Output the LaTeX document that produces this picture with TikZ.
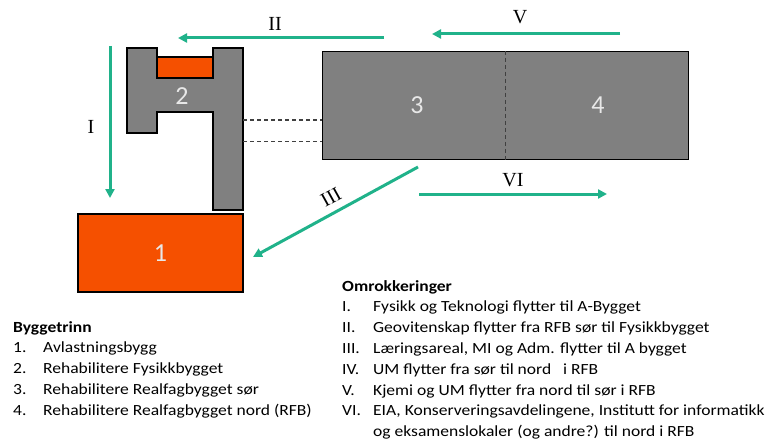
\documentclass[tikz,border=0pt]{standalone}
\usepackage{fontspec}
\setmainfont{Carlito}
\newfontfamily\listfont[FakeStretch=1.13]{Carlito}
\newfontfamily\romanfont{Liberation Serif}
\usetikzlibrary{arrows.meta, positioning}
\definecolor{movegreen}{RGB}{32,178,138}
\definecolor{buildgrey}{RGB}{128,128,128}
\definecolor{buildorange}{RGB}{245,80,0}
\definecolor{labelgrey}{RGB}{232,232,232}

\begin{document}
\begin{tikzpicture}[x=1pt, y=-1pt,
  building/.style={draw=black, line width=1.5pt, inner sep=0pt},
  nummer/.style={text=labelgrey, font=\fontsize{26}{26}\selectfont},
  move/.style={draw=movegreen, line width=3pt, -{Triangle[length=9pt,width=9pt]}},
  movelabel/.style={font=\romanfont\fontsize{20}{20}\selectfont, inner sep=0pt},
  link/.style={draw=black!75, line width=1.3pt, dash pattern=on 4pt off 3pt},
  liste/.style={anchor=base west, inner sep=0pt, font=\listfont\fontsize{15.5}{20.8}\selectfont}]

\useasboundingbox (0,0) rectangle (767,441);

% bygningene
\node[building, fill=buildorange, minimum width=165pt, minimum height=78pt, nummer] (avlast) at (160.5,253) {1};
\draw[building, fill=buildgrey] (127,48) -- (157,48) -- (157,78) -- (213,78) -- (213,48) -- (243,48)
  -- (243,210) -- (213,210) -- (213,112) -- (157,112) -- (157,133) -- (127,133) -- cycle;
\draw[building, fill=buildorange] (157,57) rectangle (213,78);
\node[nummer] (fysikk) at (182,96) {2};
\node[building, fill=buildgrey, minimum width=366pt, minimum height=108pt] (rfb) at (505.5,105.5) {};
\draw[link] (rfb.north) -- (rfb.south);
\node[nummer] (sor) at (417,105) {3};
\node[nummer] (nord) at (598,105) {4};

% gangen mellom fysikkbygget og RFB
\coordinate (gang1) at (243,120);
\coordinate (gang2) at (243,141.5);
\draw[link] (gang1) -- (gang1 -| rfb.west);
\draw[link] (gang2) -- (gang2 -| rfb.west);

% omrokkeringer
\coordinate (i-start) at (110,46);   \coordinate (i-end) at (110,198);
\coordinate (ii-start) at (384,38);  \coordinate (ii-end) at (178,38);
\coordinate (iii-start) at (418,167); \coordinate (iii-end) at (253,257);
\coordinate (v-start) at (620,34);   \coordinate (v-end) at (432,34);
\coordinate (vi-start) at (419,194); \coordinate (vi-end) at (607,194);
\draw[move] (i-start) -- (i-end);
\draw[move] (ii-start) -- (ii-end);
\draw[move] (iii-start) -- (iii-end);
\draw[move] (v-start) -- (v-end);
\draw[move] (vi-start) -- (vi-end);
\node[movelabel] (lab-i) at (91,127) {I};
\node[movelabel] (lab-ii) at (275,24) {II};
\node[movelabel, rotate=29] (lab-iii) at (331,197) {III};
\node[movelabel] (lab-v) at (520,17) {V};
\node[movelabel] (lab-vi) at (513,180) {VI};

% tekstene
\node[liste] (trinn) at (13,332)
  {\begin{tabular}[t]{@{}p{30pt}@{}l@{}}
   \multicolumn{2}{@{}l}{\textbf{Byggetrinn}}\\
   1. & Avlastningsbygg\\
   2. & Rehabilitere Fysikkbygget\\
   3. & Rehabilitere Realfagbygget sør\\
   4. & Rehabilitere Realfagbygget nord (RFB)
   \end{tabular}};
\node[liste] (omrokk) at (342,291)
  {\begin{tabular}[t]{@{}p{31pt}@{}l@{}}
   \multicolumn{2}{@{}l}{\textbf{Omrokkeringer}}\\
   I. & Fysikk og Teknologi flytter til A-Bygget\\
   II. & Geovitenskap flytter fra RFB sør til Fysikkbygget\\
   III. & Læringsareal, MI og Adm. flytter til A bygget\\
   IV. & UM flytter fra sør til nord \ \ i RFB\\
   V. & Kjemi og UM flytter fra nord til sør i RFB\\
   VI. & EIA, Konserveringsavdelingene, Institutt for informatikk\\
   & og eksamenslokaler (og andre?) til nord i RFB
   \end{tabular}};

\end{tikzpicture}
\end{document}
